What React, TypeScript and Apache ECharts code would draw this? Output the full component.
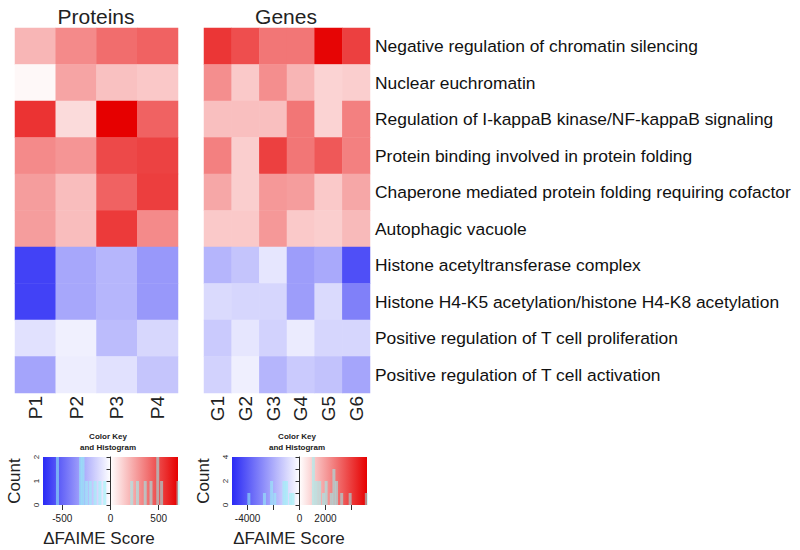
import React, { useEffect, useRef } from "react";
import * as echarts from "echarts";

const rowLabels = [
  "Negative regulation of chromatin silencing",
  "Nuclear euchromatin",
  "Regulation of I-kappaB kinase/NF-kappaB signaling",
  "Protein binding involved in protein folding",
  "Chaperone mediated protein folding requiring cofactor",
  "Autophagic vacuole",
  "Histone acetyltransferase complex",
  "Histone H4-K5 acetylation/histone H4-K8 acetylation",
  "Positive regulation of T cell proliferation",
  "Positive regulation of T cell activation",
];

const proteinCols = ["P1", "P2", "P3", "P4"];
const geneCols = ["G1", "G2", "G3", "G4", "G5", "G6"];

// ΔFAIME scores, one row per term (top to bottom)
const proteinScores: number[][] = [
  [200, 320, 400, 430],
  [20, 250, 170, 150],
  [560, 100, 700, 430],
  [320, 290, 500, 520],
  [270, 180, 430, 530],
  [270, 180, 540, 320],
  [-620, -290, -240, -340],
  [-620, -290, -240, -340],
  [-100, -50, -220, -130],
  [-300, -60, -100, -190],
];

const geneScores: number[][] = [
  [4100, 3600, 2800, 2800, 5100, 3900],
  [2300, 1100, 2300, 1500, 900, 1000],
  [1300, 1300, 1300, 2800, 900, 2600],
  [2600, 1000, 3900, 2800, 3400, 2600],
  [1800, 1000, 2100, 2000, 1100, 1800],
  [1100, 1100, 2100, 1100, 1000, 1400],
  [-1800, -1450, -600, -2400, -2100, -4300],
  [-900, -1000, -1000, -2400, -900, -3100],
  [-1300, -600, -1100, -500, -1000, -1000],
  [-1100, -400, -1800, -1300, -1500, -2200],
];

// Colour key ranges and ticks
const proteinRange = [-700, 700];
const geneRange = [-5200, 5200];
const proteinKeyTicks = [-500, 0, 500];
const proteinKeyLabels = [-500, 0, 500];
const geneKeyTicks = [-4000, -2000, 0, 2000, 4000];
const geneKeyLabels = [-4000, 0, 2000];

// Histograms (bin position, count)
const proteinHistX = [-550, -310, -285, -250, -210, -160, -110, -60, 220, 280, 360, 420, 490, 530, 700];
const proteinHistCount = [2, 2, 2, 1, 1, 1, 1, 1, 1, 1, 1, 1, 2, 1, 1];
const geneHistX = [-3900, -2700, -2150, -1900, -1200, -1000, -700, -500, 1070, 1300, 1550, 1850, 2050, 2450, 2650, 2850, 3250, 3900, 5150];
const geneHistCount = [1, 1, 2, 1, 2, 2, 1, 1, 4, 2, 2, 1, 2, 1, 3, 2, 1, 1, 1];

const BLUE = "#2a2af5";
const RED = "#e60000";
const FONT = "'Liberation Sans', Arial, Helvetica, sans-serif";

function toCells(m: number[][]) {
  const out: number[][] = [];
  m.forEach((row, r) => row.forEach((v, c) => out.push([c, r, v])));
  return out;
}

export default function App() {
  const ref = useRef<HTMLDivElement>(null);
  useEffect(() => {
    if (!ref.current) return;
    const chart = echarts.init(ref.current, undefined, { renderer: "svg" });
    const grad = () =>
      new echarts.graphic.LinearGradient(0, 0, 1, 0, [
        { offset: 0, color: BLUE },
        { offset: 0.5, color: "#ffffff" },
        { offset: 1, color: RED },
      ]);
    const heatXAxis = (gridIndex: number, data: string[]) => ({
      type: "category",
      gridIndex,
      data,
      position: "bottom",
      axisLine: { show: false },
      axisTick: { show: false },
      splitLine: { show: false },
      axisLabel: { rotate: 90, fontSize: 19, margin: 3, color: "#222", fontFamily: FONT },
    });
    const keyXAxis = (gridIndex: number, range: number[], ticks: number[], labels: number[]) => ({
      type: "value",
      gridIndex,
      min: range[0],
      max: range[1],
      axisLine: { show: false },
      splitLine: { show: false },
      axisTick: { show: true, customValues: ticks, length: 5, lineStyle: { color: "#333" } },
      axisLabel: {
        customValues: labels,
        fontSize: 10,
        color: "#222",
        margin: 8,
        fontFamily: FONT,
        formatter: (v: number) => String(v),
      },
    });
    const keyYAxis = (gridIndex: number, max: number, interval: number, labelEvery: number) => ({
      type: "value",
      gridIndex,
      min: 0,
      max,
      interval,
      name: "Count",
      nameLocation: "middle",
      nameGap: 20,
      nameRotate: 90,
      nameTextStyle: { fontSize: 17, color: "#222", fontFamily: FONT },
      axisLine: { show: true, lineStyle: { color: "#333" } },
      axisTick: { show: true, length: 4, lineStyle: { color: "#333" } },
      splitLine: { show: false },
      axisLabel: {
        rotate: 90,
        fontSize: 8,
        margin: 3,
        color: "#222",
        fontFamily: FONT,
        formatter: (v: number) => (Math.abs(v / labelEvery - Math.round(v / labelEvery)) < 1e-6 ? String(v) : ""),
      },
    });
    const histStyle = { color: "rgba(150,245,245,0.55)" };
    const option: any = {
      animation: false,
      backgroundColor: "#ffffff",
      textStyle: { fontFamily: FONT },
      grid: [
        { left: 15, top: 28, width: 163, height: 365 },
        { left: 204, top: 28, width: 166, height: 365 },
        { left: 43, top: 457, width: 135, height: 48, show: true, borderWidth: 0, backgroundColor: grad() },
        { left: 232, top: 457, width: 135, height: 48, show: true, borderWidth: 0, backgroundColor: grad() },
      ],
      xAxis: [
        heatXAxis(0, proteinCols),
        heatXAxis(1, geneCols),
        keyXAxis(2, proteinRange, proteinKeyTicks, proteinKeyLabels),
        keyXAxis(3, geneRange, geneKeyTicks, geneKeyLabels),
      ],
      yAxis: [
        { type: "category", gridIndex: 0, data: rowLabels, inverse: true, show: false },
        {
          type: "category",
          gridIndex: 1,
          data: rowLabels,
          inverse: true,
          position: "right",
          axisLine: { show: false },
          axisTick: { show: false },
          splitLine: { show: false },
          axisLabel: { fontSize: 17.4, color: "#111", margin: 5, fontFamily: FONT },
        },
        keyYAxis(2, 2, 0.5, 1),
        keyYAxis(3, 4, 1, 2),
      ],
      visualMap: [
        {
          show: false,
          seriesIndex: 0,
          min: proteinRange[0],
          max: proteinRange[1],
          inRange: { color: [BLUE, "#ffffff", RED] },
        },
        {
          show: false,
          seriesIndex: 1,
          min: geneRange[0],
          max: geneRange[1],
          inRange: { color: [BLUE, "#ffffff", RED] },
        },
      ],
      series: [
        { type: "heatmap", xAxisIndex: 0, yAxisIndex: 0, data: toCells(proteinScores), itemStyle: { borderWidth: 0 } },
        { type: "heatmap", xAxisIndex: 1, yAxisIndex: 1, data: toCells(geneScores), itemStyle: { borderWidth: 0 } },
        {
          type: "bar",
          xAxisIndex: 2,
          yAxisIndex: 2,
          barWidth: 3,
          data: proteinHistX.map((x, i) => [x, proteinHistCount[i]]),
          itemStyle: histStyle,
        },
        {
          type: "bar",
          xAxisIndex: 3,
          yAxisIndex: 3,
          barWidth: 3,
          data: geneHistX.map((x, i) => [x, geneHistCount[i]]),
          itemStyle: histStyle,
        },
      ],
      graphic: [
        { type: "text", x: 96, y: 16, style: { text: "Proteins", fontSize: 21, fontFamily: FONT, fill: "#222", align: "center", verticalAlign: "middle" } },
        { type: "text", x: 286, y: 16, style: { text: "Genes", fontSize: 21, fontFamily: FONT, fill: "#222", align: "center", verticalAlign: "middle" } },
        { type: "text", x: 108, y: 436, style: { text: "Color Key", fontSize: 8, fontWeight: "bold", fontFamily: FONT, fill: "#222", align: "center", verticalAlign: "middle" } },
        { type: "text", x: 108, y: 447, style: { text: "and Histogram", fontSize: 8, fontWeight: "bold", fontFamily: FONT, fill: "#222", align: "center", verticalAlign: "middle" } },
        { type: "text", x: 297, y: 436, style: { text: "Color Key", fontSize: 8, fontWeight: "bold", fontFamily: FONT, fill: "#222", align: "center", verticalAlign: "middle" } },
        { type: "text", x: 297, y: 447, style: { text: "and Histogram", fontSize: 8, fontWeight: "bold", fontFamily: FONT, fill: "#222", align: "center", verticalAlign: "middle" } },
        { type: "text", x: 99, y: 538, style: { text: "\u0394FAIME Score", fontSize: 17, fontFamily: FONT, fill: "#222", align: "center", verticalAlign: "middle" } },
        { type: "text", x: 289, y: 538, style: { text: "\u0394FAIME Score", fontSize: 17, fontFamily: FONT, fill: "#222", align: "center", verticalAlign: "middle" } },
      ],
    };
    chart.setOption(option);
    return () => chart.dispose();
  }, []);
  return <div ref={ref} style={{ width: 800, height: 550, position: "absolute", left: 0, top: 0 }} />;
}
